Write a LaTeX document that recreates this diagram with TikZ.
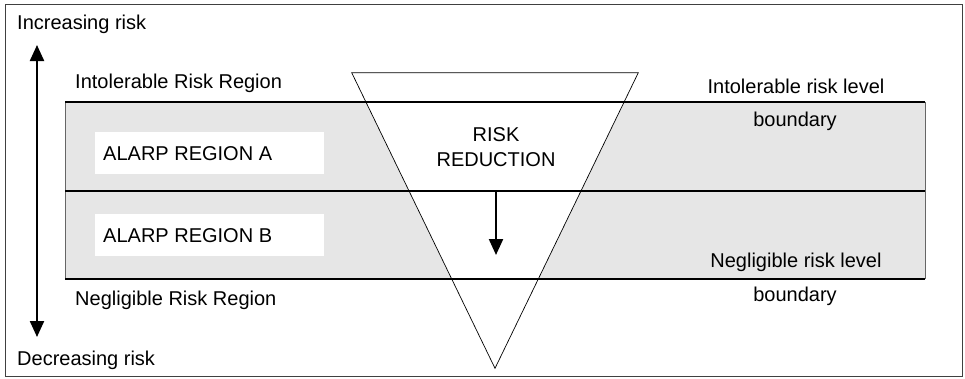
\documentclass[tikz,border=0pt]{standalone}
\usepackage{fontspec}
\setmainfont{Liberation Sans}
\usetikzlibrary{arrows.meta}
\definecolor{bandgray}{HTML}{E6E6E6}
\tikzset{
  lbl/.style={inner sep=0pt, font=\fontsize{20}{24}\selectfont},
  whitebox/.style={fill=white, draw=none},
  bandline/.style={line width=2pt, black},
  bigarrow/.style={line width=2.2pt, -{Triangle[length=16pt,width=14pt]}},
}
\begin{document}
\begin{tikzpicture}[x=1pt,y=-1pt]
\useasboundingbox (0,0) rectangle (965,378);
% outer frame
\draw[line width=1pt, black!75] (5,4) rectangle (962,376);
% band
\fill[bandgray] (65,102) rectangle (925,279);
\draw[line width=0.8pt, black!60] (65,102) -- (65,279);
\draw[line width=0.8pt, black!60] (925,102) -- (925,279);
% white boxes
\node[whitebox, minimum width=229pt, minimum height=42pt, anchor=north west] (boxA) at (95,132) {};
\node[whitebox, minimum width=229pt, minimum height=42pt, anchor=north west] (boxB) at (95,214) {};
\node[lbl, anchor=base west] (alarpA) at (103,160) {ALARP REGION A};
\node[lbl, anchor=base west] (alarpB) at (103,242) {ALARP REGION B};
% triangle
\coordinate (tl) at (351.7,72.7);
\coordinate (tr) at (638.3,72.7);
\coordinate (tb) at (495,368.3);
\draw[fill=white, line width=0.7pt] (tl) -- (tr) -- (tb) -- cycle;
% band lines
\coordinate (l1a) at (65,102); \coordinate (l1b) at (925,102);
\coordinate (l2a) at (65,191); \coordinate (l2b) at (925,191);
\coordinate (l3a) at (65,279); \coordinate (l3b) at (925,279);
\draw[bandline] (l1a) -- (l1b);
\draw[bandline] (l2a) -- (l2b);
\draw[bandline] (l3a) -- (l3b);
% risk reduction
\node[lbl, anchor=base] (rr1) at (496,141.5) {RISK};
\node[lbl, anchor=base] (rr2) at (496,166) {REDUCTION};
\coordinate (ra) at (496,190);
\coordinate (rb) at (496,255);
\draw[bigarrow] (ra) -- (rb);
% left arrow
\coordinate (vt) at (37,45);
\coordinate (vb) at (37,337);
\draw[line width=2.2pt, {Triangle[length=16pt,width=14pt]}-{Triangle[length=16pt,width=14pt]}] (vt) -- (vb);
% labels
\node[lbl, anchor=base west] (inc) at (17,29) {Increasing risk};
\node[lbl, anchor=base west] (dec) at (17,365) {Decreasing risk};
\node[lbl, anchor=base west] (intreg) at (75,88) {Intolerable Risk Region};
\node[lbl, anchor=base west] (negreg) at (75,305.5) {Negligible Risk Region};
\node[lbl, anchor=base] (intlev) at (796,93) {Intolerable risk level};
\node[lbl, anchor=base] (bnd1) at (795,126.5) {boundary};
\node[lbl, anchor=base] (neglev) at (796,267) {Negligible risk level};
\node[lbl, anchor=base] (bnd2) at (795,301) {boundary};
\end{tikzpicture}
\end{document}
